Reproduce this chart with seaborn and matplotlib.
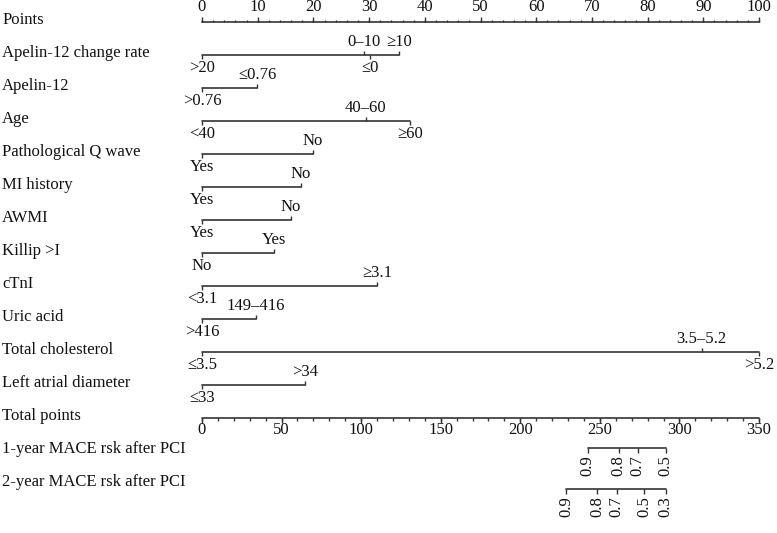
import numpy as np
import pandas as pd
import matplotlib
matplotlib.use("Agg")
import matplotlib.pyplot as plt
import seaborn as sns

variables = ["Apelin-12 change rate", "Apelin-12", "Age", "Pathological Q wave",
             "MI history", "AWMI", "Killip >I", "cTnI", "Uric acid",
             "Total cholesterol", "Left atrial diameter"]
level_labels = [
    [">20", "0–10", "≤0", "≥10"],
    [">0.76", "≤0.76"],
    ["<40", "40–60", "≥60"],
    ["Yes", "No"],
    ["Yes", "No"],
    ["Yes", "No"],
    ["No", "Yes"],
    ["<3.1", "≥3.1"],
    [">416", "149–416"],
    ["≤3.5", "3.5–5.2", ">5.2"],
    ["≤33", ">34"],
]
level_points = [
    [0, 29.1, 30.2, 35.4],
    [0, 9.9],
    [0, 29.4, 37.3],
    [0, 19.9],
    [0, 17.8],
    [0, 15.9],
    [0, 12.9],
    [0, 31.4],
    [0, 9.7],
    [0, 89.7, 100],
    [0, 18.5],
]
points_ticks = np.arange(0, 101, 10)
total_ticks = np.arange(0, 351, 50)
risk1_labels = ["0.9", "0.8", "0.7", "0.5"]
risk1_total = [242.4, 261.8, 273.8, 291.4]
risk2_labels = ["0.9", "0.8", "0.7", "0.5", "0.3"]
risk2_total = [228.9, 248.4, 260.6, 277.7, 291.4]

# layout (pixel-zeilen)
label_y = [20 + 33 * i for i in range(15)]
line_y = [22] + [label_y[i] + 2 for i in range(1, 13)] + [448, 489]
row_names = ["Points"] + variables + ["Total points", "1-year MACE rsk after PCI",
                                       "2-year MACE rsk after PCI"]
col = "#333333"
txt = "#111111"
fs = 12

sns.set_theme(style="white")
plt.rcParams["font.family"] = ["Liberation Serif", "DejaVu Serif"]

fig = plt.figure(figsize=(7.77, 5.33), dpi=100)
ax = fig.add_axes([0, 0, 1, 1])
ax.set_xlim(-202 / 5.57, (777 - 202) / 5.57)
ax.set_ylim(533, 0)
ax.axis("off")

tp = lambda v: np.asarray(v) / 3.5  # total points -> punkte-skala

# alle horizontalen linien als segmente
segs = [("points", 0, 100, line_y[0])]
for i, pts in enumerate(level_points):
    segs.append((variables[i], min(pts), max(pts), line_y[i + 1]))
segs.append(("total", 0, 100, line_y[12]))
segs.append(("risk1", tp(min(risk1_total)), tp(max(risk1_total)), line_y[13]))
segs.append(("risk2", tp(min(risk2_total)), tp(max(risk2_total)), line_y[14]))
seg_df = pd.DataFrame([(n, x, y) for n, a, b, y in segs for x in (a, b)],
                      columns=["seg", "x", "y"])
sns.lineplot(data=seg_df, x="x", y="y", units="seg", estimator=None, sort=False,
             color=col, lw=1.2, ax=ax, legend=False)

# zeilen-beschriftung links
for name, y in zip(row_names, label_y):
    ax.text(0.003, y, name, transform=ax.get_yaxis_transform(), ha="left",
            va="center", fontsize=fs, color=txt)

# points-achse (ticks nach oben)
y0 = line_y[0]
ax.vlines(np.arange(0, 101, 2), y0 - 2.5, y0, color=col, lw=1)
ax.vlines(points_ticks, y0 - 5, y0, color=col, lw=1)
for t in points_ticks:
    ax.text(t, 7, f"{t}", ha="center", va="center", fontsize=fs, color=txt)

# variablen: labels abwechselnd unten/oben
for i, (labs, pts) in enumerate(zip(level_labels, level_points)):
    y = line_y[i + 1]
    order = np.argsort(pts)
    for k, j in enumerate(order):
        d = -1 if k % 2 == 1 else 1
        ax.vlines(pts[j], y, y + d * 4, color=col, lw=1)
        ax.text(pts[j], y + d * 13, labs[j], ha="center", va="center",
                fontsize=fs, color=txt)

# total points (ticks nach unten)
y0 = line_y[12]
ax.vlines(tp(np.arange(0, 351, 10)), y0, y0 + 2.5, color=col, lw=1)
ax.vlines(tp(total_ticks), y0, y0 + 5, color=col, lw=1)
for t in total_ticks:
    ax.text(tp(t), 430, f"{t}", ha="center", va="center", fontsize=fs, color=txt)

# risiko-skalen
for labs, vals, y in [(risk1_labels, risk1_total, line_y[13]),
                      (risk2_labels, risk2_total, line_y[14])]:
    ax.vlines(tp(vals), y, y + 5, color=col, lw=1)
    for l, v in zip(labs, vals):
        ax.text(tp(v), y + 7, l, ha="center", va="top", rotation=90,
                fontsize=fs, color=txt)

fig.savefig("out.png", dpi=100)
